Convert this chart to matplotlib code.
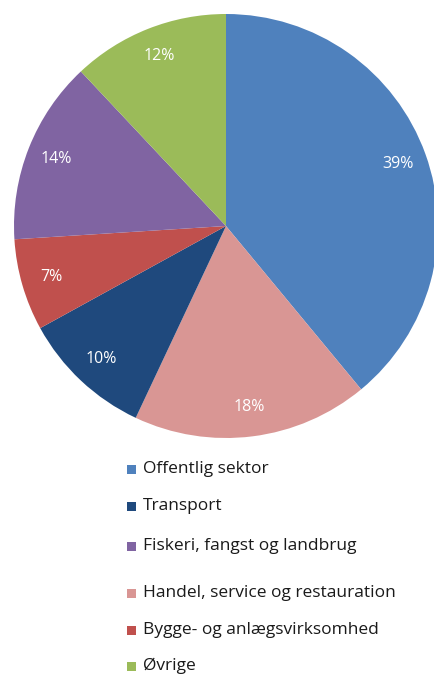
import matplotlib
matplotlib.use('Agg')
import matplotlib.pyplot as plt
from matplotlib.patches import Rectangle

# slices, clockwise from the top
sectors = ['Offentlig sektor', 'Handel, service og restauration', 'Transport',
           'Bygge- og anlægsvirksomhed', 'Fiskeri, fangst og landbrug', 'Øvrige']
shares = [39, 18, 10, 7, 14, 12]
colors = ['#4F81BD', '#D99694', '#1F497D', '#C0504D', '#8064A2', '#9BBB59']

# legend is listed in another order
legend_order = ['Offentlig sektor', 'Transport', 'Fiskeri, fangst og landbrug',
                'Handel, service og restauration', 'Bygge- og anlægsvirksomhed', 'Øvrige']

fig = plt.figure(figsize=(4.35, 6.75), dpi=100)
ax = fig.add_axes([14/435, 1 - 438/675, 424/435, 424/675])
ax.pie(shares, colors=colors, startangle=90, counterclock=False,
       autopct='%d%%', pctdistance=0.86,
       wedgeprops=dict(linewidth=0),
       textprops=dict(color='white', fontsize=11.5, family='Open Sans'))
ax.set_xlim(-1, 1)
ax.set_ylim(-1, 1)
ax.set_aspect('equal')
for p in ax.patches:
    p.set_clip_on(False)

legend_y = [469, 506, 546, 593, 630, 666]
for name, y in zip(legend_order, legend_y):
    c = colors[sectors.index(name)]
    fig.add_artist(Rectangle((127/435, 1 - (y + 4.5)/675), 9/435, 9/675,
                             transform=fig.transFigure, color=c, lw=0))
    fig.text(143/435, 1 - y/675, name, fontsize=12.5, family='Open Sans',
             color='#1a1a1a', va='center', ha='left')

fig.savefig('out.png', dpi=100)
